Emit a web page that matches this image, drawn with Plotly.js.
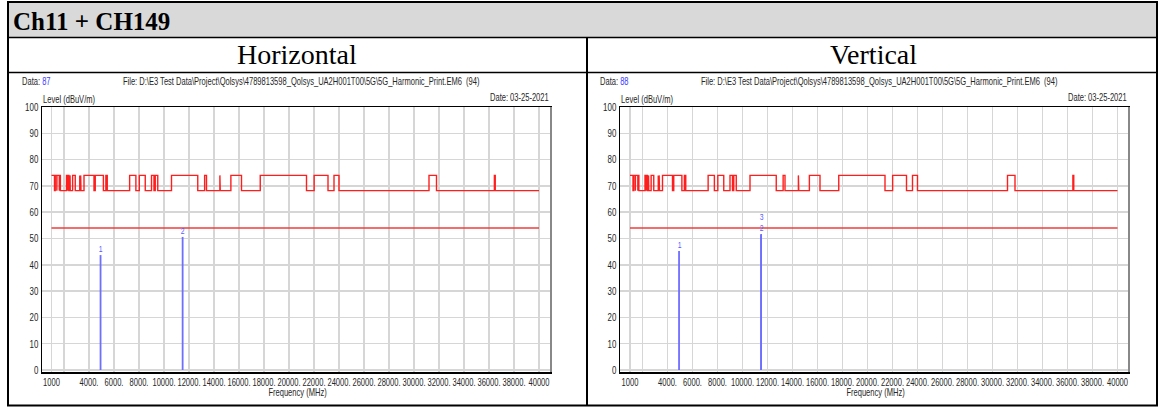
<!DOCTYPE html>
<html><head><meta charset="utf-8">
<script src="https://cdn.plot.ly/plotly-3.0.1.min.js"></script>
<style>html,body{margin:0;padding:0;background:#fff;overflow:hidden}#chart{width:1159px;height:407px}</style>
</head><body><div id="chart"></div><script>
const W = 1159, H = 407;

// ---- data ----
const tableTitle = 'Ch11 + CH149';
const panelTitles = ['Horizontal', 'Vertical'];
const dataIds = ['87', '88'];
const fileText = 'File: D:\\E3 Test Data\\Project\\Qolsys\\4789813598_Qolsys_UA2H001T00\\5G\\5G_Harmonic_Print.EM6  (94)';
const dateText = 'Date: 03-25-2021';
const yTitle = 'Level (dBuV/m)';
const xTitle = 'Frequency (MHz)';

const freqStart = 1000, freqEnd = 40000;
const restrictedBands = [[960,1240],[1300,1427],[1435,1626.5],[1645.5,1646.5],[1660,1710],[1718.8,1722.2],
  [2200,2300],[2310,2390],[2483.5,2500],[2690,2900],[3260,3267],[3332,3339],[3345.8,3358],[3600,4400],
  [4500,5150],[5350,5460],[7250,7750],[8025,8500],[9000,9200],[9300,9500],[10600,12700],[13250,13400],
  [14470,14500],[15350,16200],[17700,21400],[22010,23120],[23600,24000],[31200,31800],[36430,36500]];
const peakLimit = 74;
const nonRestrictedLimit = 68.2;
const avgLimit = 54;

const markerFreqH = [4924, 11490];
const markerLevelH = [43.7, 50.6];
const markerLabelH = ['1', '2'];
const markerFreqV = [4924, 11490, 11490];
const markerLevelV = [45.2, 51.7, 51.4];
const markerLabelV = ['1', '2', '3'];

const xTickVals = [1000,2000,4000,6000,8000,10000,12000,14000,16000,18000,20000,22000,24000,26000,28000,30000,32000,34000,36000,38000,40000];
const xTickText = ['1000','','4000.','6000.','8000.','10000.','12000.','14000.','16000.','18000.','20000.','22000.','24000.','26000.','28000.','30000.','32000.','34000.','36000.','38000.','40000'];
const yTickVals = [0,10,20,30,40,50,60,70,80,90,100];

// ---- build ----
const NARROW = 'Liberation Sans, Arial, sans-serif';
const SERIF = '"Liberation Serif", "Times New Roman", serif';
const SQUEEZE = 0.72;
const px = x => x / W;
const py = y => 1 - y / H;

const stepX = [], stepY = [];
restrictedBands.forEach(([a, b]) => {
  const a2 = Math.max(a, freqStart);
  if (a2 > freqStart) { stepX.push(a2); stepY.push(nonRestrictedLimit); }
  stepX.push(a2, b, b); stepY.push(peakLimit, peakLimit, nonRestrictedLimit);
});
stepX.push(freqEnd); stepY.push(nonRestrictedLimit);

const RED = 'rgb(255,30,30)';
const BLUE = 'rgb(110,110,255)';
const TXT = '#262626';

const annotations = [];
const shapes = [];

function panelTraces(xa, ya, mF, mL, mT) {
  const t = [];
  t.push({x: stepX, y: stepY, xaxis: xa, yaxis: ya, mode: 'lines', line: {color: RED, width: 1.4}, hoverinfo: 'skip'});
  t.push({x: [freqStart, freqEnd], y: [avgLimit, avgLimit], xaxis: xa, yaxis: ya, mode: 'lines', line: {color: 'rgb(240,60,60)', width: 1.4}, hoverinfo: 'skip'});
  mF.forEach((f, i) => {
    t.push({x: [f, f], y: [0, mL[i]], xaxis: xa, yaxis: ya, mode: 'lines', line: {color: BLUE, width: 1.8}, hoverinfo: 'skip'});
    // marker number label, stacked when several markers share a frequency
    let k = 0; for (let j = 0; j < i; j++) if (mF[j] === f) k++;
    const topLevel = Math.max.apply(null, mF.map((g, j) => g === f ? mL[j] : -1e9));
    annotations.push({text: mT[i], x: f, y: topLevel, xref: xa, yref: ya, xanchor: 'center', yanchor: 'bottom',
      yshift: 11.5 * k, borderpad: 0, showarrow: false, font: {family: NARROW, size: 9.5, color: 'rgb(90,90,255)'}});
  });
  return t;
}

const traces = [].concat(
  panelTraces('x', 'y', markerFreqH, markerLevelH, markerLabelH),
  panelTraces('x2', 'y2', markerFreqV, markerLevelV, markerLabelV)
);

function xAxis(dom, range, anchor) {
  return {domain: dom, range: range, anchor: anchor, tickvals: xTickVals, ticktext: xTickText, tickangle: 0,
    showgrid: true, gridcolor: '#d6d6d6', gridwidth: 1.5, zeroline: false,
    showline: true, linecolor: '#000', linewidth: 1.5, mirror: true, ticks: '',
    tickfont: {family: NARROW, size: 10.5, color: TXT}, fixedrange: true};
}
function yAxis(dom, anchor) {
  return {domain: dom, range: [-0.76, 100], anchor: anchor, tickvals: yTickVals,
    showgrid: true, gridcolor: '#d6d6d6', gridwidth: 1.5, zeroline: false,
    showline: true, linecolor: '#000', linewidth: 1.5, mirror: false, ticks: '',
    tickfont: {family: NARROW, size: 11, color: TXT}, fixedrange: true};
}

const yDom = [py(372), py(107)];
const panels = [
  {dx: 0, plotR: 552},
  {dx: 578, plotR: 1130}
];

function ann(text, x, y, xanchor, font) {
  annotations.push({text: text, x: px(x), y: py(y), xref: 'paper', yref: 'paper', xanchor: xanchor, yanchor: 'middle', showarrow: false, font: font});
}

// table
shapes.push({type: 'rect', xref: 'paper', yref: 'paper', x0: px(8), x1: px(1157), y0: py(2), y1: py(37), fillcolor: '#d9d9d9', line: {width: 0}, layer: 'below'});
shapes.push({type: 'rect', xref: 'paper', yref: 'paper', x0: px(8), x1: px(1157), y0: py(2), y1: py(405.5), line: {color: '#000', width: 2}});
shapes.push({type: 'line', xref: 'paper', yref: 'paper', x0: px(8), x1: px(1157), y0: py(37.5), y1: py(37.5), line: {color: '#000', width: 1.5}});
shapes.push({type: 'line', xref: 'paper', yref: 'paper', x0: px(8), x1: px(1157), y0: py(72.5), y1: py(72.5), line: {color: '#000', width: 1.5}});
shapes.push({type: 'line', xref: 'paper', yref: 'paper', x0: px(587), x1: px(587), y0: py(37.5), y1: py(405.5), line: {color: '#000', width: 2}});

ann('<b>' + tableTitle + '</b>', 11, 21, 'left', {family: SERIF, size: 25, color: '#000'});
ann(panelTitles[0], 297, 55, 'center', {family: SERIF, size: 28, color: '#000'});
ann(panelTitles[1], 873, 55, 'center', {family: SERIF, size: 28, color: '#000'});

panels.forEach((p, i) => {
  const f = {family: NARROW, size: 10.5, color: TXT};
  ann('Data: <span style="color:#3a3aff">' + dataIds[i] + '</span>', 20 + p.dx, 81, 'left', f);
  ann(fileText, 301 + p.dx, 81, 'center', f);
  ann(dateText, 551 + p.dx, 97, 'right', f);
  ann(yTitle, 41 + p.dx, 99, 'left', f);
  ann(xTitle, 297 + p.dx, 392, 'center', f);
  shapes.push({type: 'line', xref: 'paper', yref: 'paper', x0: px(p.plotR - 1), x1: px(p.plotR - 1), y0: py(107), y1: py(372), line: {color: '#888', width: 2}});
});

const layout = {
  width: W, height: H, margin: {l: 0, r: 0, t: 0, b: 0},
  paper_bgcolor: '#fff', plot_bgcolor: '#fff', showlegend: false,
  xaxis: xAxis([px(42), px(552)], [240, 41040], 'y'),
  yaxis: yAxis(yDom, 'x'),
  xaxis2: xAxis([px(620), px(1130)], [200, 41000], 'y2'),
  yaxis2: yAxis(yDom, 'x2'),
  annotations: annotations, shapes: shapes
};

// condense the instrument-style sans text horizontally (narrow font look)
function condense() {
  document.querySelectorAll('#chart svg text').forEach(el => {
    const ff = (el.style.fontFamily || '') + ' ' + (el.getAttribute('font-family') || '');
    if (ff.indexOf('Liberation Sans') < 0) return;
    let X = parseFloat(el.getAttribute('x') || '0') || 0;
    const annG = el.closest('.annotation');
    if (annG) {
      const idx = parseInt(annG.getAttribute('data-index'), 10);
      const a = layout.annotations[idx];
      const bb = el.getBBox();
      if (a && a.xanchor === 'left') X = bb.x;
      else if (a && a.xanchor === 'right') X = bb.x + bb.width;
      else X = bb.x + bb.width / 2;
    }
    const t = el.getAttribute('transform') || '';
    el.setAttribute('transform', (t + ' translate(' + X + ',0) scale(' + SQUEEZE + ',1) translate(' + (-X) + ',0)').trim());
  });
}

Plotly.newPlot('chart', traces, layout, {staticPlot: true, displayModeBar: false}).then(condense);
</script></body></html>
